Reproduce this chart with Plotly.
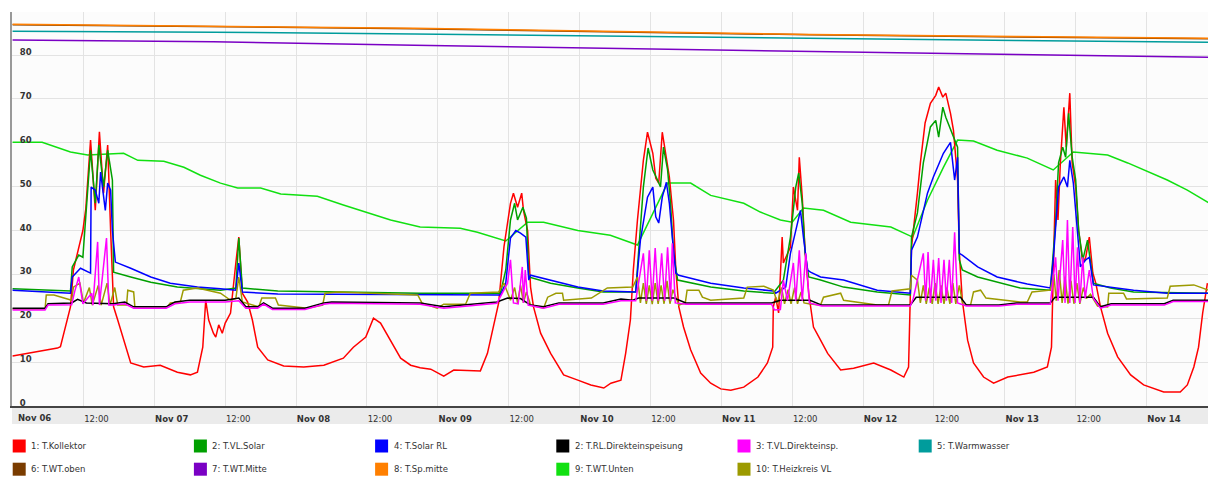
import plotly.graph_objects as go
from datetime import datetime, timedelta

# ---------------- data (hours since Nov 06 00:00, value in °C) ----------------
START = datetime(2016, 11, 6)

T_KOLLEKTOR = [(0,11.4),(7.6,13.2),(8.1,13.5),(9.8,22.6),(10.3,31),(11,35),(11.9,40),(12.4,45),(13.2,60.6),(14,44.6),(14.7,62.5),(15.4,48.5),(16.1,59.5),(16.6,40),(17.1,22.6),(17.8,19.6),(18.8,15),(20,9.8),(22.2,8.9),(25,9.3),(27.9,7.7),(30.1,7.1),(31.3,7.7),(32.2,13.4),(32.7,24.1),(33.2,19.6),(34,16.6),(34.4,15.7),(34.9,18.5),(35.5,16.6),(36,18.9),(36.9,21.2),(37.8,32.6),(38.3,38.5),(38.9,25.7),(39.8,23.7),(40.6,19.6),(41.5,13.4),(43.2,10.5),(45.9,9.1),(49.3,8.9),(52.7,9.3),(56,10.9),(57.7,13.4),(59.8,15.7),(61.1,20),(62.3,18.9),(64,15),(65.7,10.9),(67.4,9.3),(69,8.7),(70.8,8.4),(73,6.8),(74.7,8.2),(79.2,8.0),(80.4,12),(81.4,18),(82.3,23.5),(83.2,36.3),(83.8,42.4),(84.3,46.2),(84.8,48.5),(85.5,45.3),(86.2,48.5),(86.5,44.6),(87.2,40),(87.7,27.1),(88.2,22.6),(89.4,16.6),(91.1,12),(93.3,7.1),(95.7,5.9),(97.9,4.8),(100.1,4.1),(101.3,5.2),(103,5.9),(103.8,12),(104.6,19.6),(105.1,31),(105.8,42.4),(106.3,49.9),(106.8,56),(107.5,62.4),(108.4,57.6),(108.9,51.9),(109.4,50.8),(110,62.4),(110.6,57.6),(111.2,52.2),(111.9,42.4),(112.3,31),(112.8,22.6),(113.6,18),(114.8,12.8),(116.5,7.5),(118.2,5.2),(119.9,3.9),(121.6,3.6),(123.8,4.3),(126.2,6.6),(127.8,9.8),(128.7,13.4),(128.8,22.6),(129.2,24.8),(129.7,21.2),(130.3,38.5),(130.5,32.6),(131.7,36.2),(132.2,49.9),(132.9,44.6),(133.2,56.7),(133.7,47.6),(134.2,34.8),(134.8,25.7),(135.6,18),(136.8,15),(138,12),(140.2,8.2),(142.4,8.6),(145.8,9.8),(148.7,8.2),(150.9,6.6),(151.7,8.9),(152.2,36.2),(152.6,40.8),(153.2,48.5),(153.7,55.4),(154.5,64.5),(155.4,69),(156.3,70.8),(156.8,72.7),(157.5,70.4),(158,71.3),(158.8,66.7),(159.3,62.9),(160,51.5),(160.3,34.8),(160.8,24.1),(161.7,15),(162.7,9.8),(164.4,6.6),(166.1,5.2),(168.5,6.6),(170.6,7.1),(172.9,7.7),(175.2,8.9),(175.9,13.4),(176.2,30.3),(176.6,51.5),(177,42.4),(177.4,55.4),(178,68.1),(178.4,59),(179,71.3),(179.4,55.4),(180,49.9),(180.5,40),(181.2,32.6),(181.7,33.9),(182.3,38.5),(182.9,30.3),(183.4,28),(184.2,22.6),(185.4,16.6),(187.1,11.2),(189.3,7.1),(191.5,4.8),(194.9,3.2),(197.7,3.2),(198.9,4.8),(200,8.9),(200.8,13.4),(201.5,21.2),(202.3,28)]

T_VL_SOLAR = [(0,26.7),(9.8,26.2),(10.1,31.7),(11.2,34.4),(11.9,33.9),(13.2,58.3),(14,46.2),(14.6,59.5),(15.4,49.9),(16.1,58.3),(16.9,51.5),(17.1,30.5),(20,29.4),(23.4,28.2),(27.9,27.1),(35.2,26.4),(37.8,26.9),(38.3,38.3),(38.9,26.9),(44.9,26.2),(69,25.7),(82.6,25.7),(83.5,31),(84.3,42.4),(85,46.2),(85.5,42.4),(86.4,45.3),(87,42.8),(87.4,29.4),(91.1,28),(95.7,26.9),(100,26),(105.5,26),(106,34.8),(106.8,49.9),(107.6,58.8),(108.4,53.8),(109.2,51.5),(109.7,49.9),(110.2,59),(110.9,53.8),(111.4,46.2),(111.9,34.8),(112.6,28.7),(118.2,27.1),(123.8,26.2),(128.8,25.7),(130.5,28.7),(131.7,38.5),(132.6,49.9),(133.1,53.1),(133.7,46.2),(134.2,34.8),(134.8,29.4),(136.8,28.7),(140.7,27.1),(146.4,26),(152,25.3),(152.2,38.5),(153.2,44),(154.2,55.4),(155.4,63.6),(156.3,65.1),(156.8,61.3),(157.5,68.1),(158,65.8),(158.8,62.9),(159.3,61.3),(160,59),(160.3,33.3),(160.8,31),(163.4,29.4),(166.7,28.2),(170.6,26.9),(175.7,26.4),(176.6,41.7),(177.1,55.4),(177.8,59),(178.3,56.7),(178.8,66.7),(179.4,56.7),(180,51.5),(180.5,40),(181.2,33.3),(182,37.8),(183,28),(185.9,26.9),(189.8,26),(202.7,25.7)]

T_SOLAR_RL = [(0,26.4),(9.8,25.7),(10.1,29.4),(11.5,31.4),(13.2,30.3),(13.3,49.9),(14,49.2),(14.6,46.2),(14.9,53.3),(15.7,44.6),(16.1,50.8),(16.6,49.2),(16.9,40),(17.4,32.8),(20,31.4),(23.4,29.4),(26.7,28),(31.3,27.1),(35.2,26.7),(37.8,26.4),(38.3,32.6),(38.9,26),(44.9,25.5),(69,25.3),(82.6,25.3),(83.5,28),(84.3,38.3),(85.2,40),(86,39.4),(86.9,38.5),(87.4,28.7),(87.7,29.8),(91.1,28.7),(95.7,27.1),(100,26.2),(105.5,26),(106.3,37.8),(107.5,47.6),(108.4,49.9),(108.9,43.1),(109.4,41.7),(110,47.6),(110.7,51),(111.2,46.2),(111.7,38.5),(112.3,30.3),(112.8,29.8),(118.2,28),(123.8,26.9),(128.8,26.2),(129.2,25.7),(130.9,27.1),(131.7,34.8),(132.6,40),(133.4,44.6),(133.9,38.5),(134.6,31),(135.1,30.5),(136.8,29.4),(140.7,28.7),(146.4,26.4),(152,25.7),(152.2,35.5),(153.2,38.5),(154.9,48.5),(155.9,52.2),(157.6,57.6),(158.8,60.1),(159.5,51.5),(160,56.7),(160.3,34.8),(160.8,34.4),(163.4,31.7),(166.7,29.4),(170.6,28.2),(171.8,27.8),(175.7,26.9),(176.2,33.3),(177.1,49.9),(178,52.2),(178.6,49.9),(179,56),(179.6,50.8),(180.1,42.4),(180.8,31.7),(181.7,33.3),(182.3,33.9),(183,27.6),(189.8,26.4),(195.5,25.7),(202.7,25.7)]

T_RL_DIREKT = [(0,22.3),(5.5,22.3),(6,23.3),(10,23.5),(11,24.3),(12.5,23.5),(17,23.3),(19,23.7),(20.5,22.6),(26,22.6),(27.5,23.7),(30,24.1),(36,24.1),(38.3,24.6),(39.5,22.6),(41.5,22.6),(42.5,23.5),(44,22.3),(49.5,22.3),(52.7,23.5),(54,23.7),(69,23.5),(73,22.6),(82,23.7),(83.8,24.6),(86,24.5),(87.7,23),(89.9,22.6),(92.5,23.5),(100,23.5),(103,24.4),(105,24.1),(106,24.6),(112,24.6),(114,23.5),(128.5,23.5),(130,24.1),(135,24.1),(137,23),(152,23),(153,24.8),(160.5,24.8),(161.5,23),(167,23),(170,23.5),(175.7,23.5),(176.5,24.8),(183,24.8),(184.2,22.6),(186,23.3),(195,23.3),(196.5,24.1),(202.7,24.1)]

T_VL_DIREKT = [(0,21.9),(5.5,21.9),(6,23),(10,23.1),(10.5,26),(11.2,29.4),(11.9,23.3),(13.4,25.7),(13.6,23),(14.4,37.4),(14.7,23),(15.9,38.3),(16.3,23),(17,23),(19,23.3),(20.5,22.3),(26,22.3),(27.5,23.3),(30,23.7),(36,23.7),(38.3,24),(39.5,22.3),(41.5,22.3),(42.5,23.2),(44,22),(49.5,22),(52.7,23.2),(54,23.4),(69,23.2),(73,22.3),(82,23.4),(83.8,28),(84.3,33.3),(84.8,23.5),(85.6,23.3),(86.3,31.7),(86.5,23.5),(86.8,31),(87.3,23),(89.9,22.3),(92.5,23.2),(100,23.2),(103,24),(105.5,24),(106.8,34.8),(107.3,24),(107.8,35.5),(108.3,24),(108.8,36),(109.3,24),(109.9,34.8),(110.4,24),(110.9,36.2),(111.4,24),(111.7,37.1),(112.2,23.5),(114,23.2),(128.5,23.2),(129,21.9),(130,22),(130.5,28.7),(131.2,24),(132.2,32.6),(132.6,24),(133.2,35.5),(133.7,24),(134.3,34.8),(134.9,23.5),(137,22.8),(152,22.8),(152.5,24.5),(154.2,34.8),(154.6,24),(155,35.1),(155.4,23.5),(155.9,33.3),(156.3,24),(156.8,33.7),(157.2,23.5),(157.7,33.3),(158.1,24),(158.6,33.3),(159,23.5),(159.5,39.6),(160,23.5),(161.5,22.8),(167,22.8),(170,23.2),(175.7,23.2),(176.6,33.9),(177,24),(177.8,37.8),(178.2,23.5),(178.6,42.4),(179,23.5),(179.5,40.8),(179.9,23.5),(180.3,36.2),(180.7,23.5),(181.2,33.9),(181.6,24.5),(182.3,31),(183,24.5),(184.2,22.3),(186,23),(195,23),(196.5,23.8),(202.7,23.8)]

T_WARMWASSER = [(0,85.4),(34,85.2),(68,84.8),(100,84.3),(135,83.8),(170,83.3),(202.7,82.9)]
T_WT_OBEN = [(0,86.9),(34,86.5),(68,86.0),(100,85.3),(135,84.6),(170,84.1),(202.7,83.7)]
T_WT_MITTE = [(0,83.4),(34,83.0),(68,82.2),(100,81.5),(135,80.8),(170,80.1),(202.7,79.5)]
T_SP_MITTE = [(0,87.0),(34,86.6),(68,86.1),(100,85.4),(135,84.7),(170,84.2),(202.7,83.8)]

T_WT_UNTEN = [(0,60.1),(5,60.1),(9.8,57.9),(12.7,57.2),(18.8,57.6),(21.2,56),(25.6,55.8),(29,54.4),(31.8,52.6),(35.2,50.8),(38.1,49.7),(42,49.7),(45.4,48.3),(51.6,47.8),(56,45.8),(60.1,44),(64,42.4),(69,40.8),(75.8,40.5),(78.7,39.6),(83.5,37.6),(87.2,41.9),(89.9,41.9),(95.7,40),(101.2,38.9),(105.8,36.7),(110.9,50.8),(114.8,50.8),(118.2,48),(123.8,46.2),(126.6,44.2),(130,42.4),(132,41.9),(133.9,45.1),(137.3,44.6),(141.9,41.9),(148.7,40.8),(152.4,38.5),(154.9,46.9),(157.6,54.4),(160,60.6),(162.7,60.4),(166.7,58.3),(171.8,56.5),(176.2,53.8),(179.6,57.9),(185.4,57.2),(188.8,55.4),(195.5,51.5),(198.9,49.2),(202.7,46.2)]

T_HEIZKREIS_VL = [(0,22.1),(5.5,22.1),(5.7,25.3),(7,25.3),(10,24.1),(10.3,27.1),(11.4,28),(12,23.5),(13,27),(13.5,23),(14.5,27.5),(15,23),(16,28),(16.5,23),(17.3,27),(17.8,23),(19.3,23),(19.5,26.4),(20.5,26),(20.7,22.6),(26.2,22.6),(26.7,23.5),(28.4,23.7),(28.9,26.4),(31.3,26.9),(35.2,25.7),(36.9,24.1),(37.8,24.5),(38.3,29.4),(38.9,23.7),(41.7,22.6),(42.2,24.6),(44.5,24.6),(45,23),(49.9,22.3),(52.5,23),(52.9,25.7),(55,26),(68.6,25.3),(69.3,23.5),(71.9,22.3),(73,23.2),(76.7,23.2),(77.5,25.7),(82.3,26),(83.2,28),(84.3,24.1),(85,27),(85.5,23.5),(86,27.5),(86.5,23.5),(87,26),(87.7,23),(89.9,22.3),(90.6,24.8),(92,25.7),(93.1,25.7),(93.3,24.1),(98,24.6),(100.7,26.9),(105,27.1),(105.8,29.4),(106.3,23.5),(106.8,28),(107.3,23.3),(107.8,27.5),(108.3,23.2),(108.8,28),(109.3,23.3),(109.8,27.5),(110.3,23.3),(110.8,28.5),(111.3,23.3),(111.8,26.5),(112.8,23),(113.9,23.5),(114.2,26.4),(116.2,26.4),(116.8,24.8),(118.2,24.1),(123.8,24.6),(124.4,27.1),(127.2,27.3),(128.8,26.4),(129.5,23.5),(130.2,27),(130.7,23.3),(131.3,26.5),(131.8,23.3),(132.4,27),(132.9,23.3),(133.5,26),(134,23.5),(134.8,23.3),(136.8,23),(137.3,24.8),(140.2,25.7),(140.7,24.1),(146.4,23),(148.3,23),(148.9,26.2),(152,26.7),(152.2,29.8),(153.2,28.7),(153.7,23.5),(154.2,27.5),(154.7,23.3),(155.2,27),(155.7,23.3),(156.2,28),(156.7,23.3),(157.2,27.5),(157.7,23.3),(158.2,27),(158.7,23.3),(159.2,28),(159.7,23.3),(160.3,27.5),(160.9,23),(162.2,23),(162.7,26),(163.9,26.4),(164.8,24.6),(170.6,23.7),(171.8,23.7),(172.6,26),(175.7,26.4),(176.3,30),(176.7,24),(177.2,31),(177.7,23.5),(178.2,29.5),(178.7,23.3),(179.2,28.5),(179.7,23.3),(180.2,28),(180.7,23.3),(181.3,27),(181.8,24.5),(182.5,25.5),(183.7,22.8),(185.4,22.6),(185.6,25.7),(188.1,25.7),(188.6,24.4),(195.5,24.6),(196,27.3),(200,27.6),(202.5,26.4)]

X_TICK_HOURS = [i * 12 for i in range(17)]
X_TICK_LABELS = ["<b>Nov 06</b>", "12:00", "<b>Nov 07</b>", "12:00", "<b>Nov 08</b>", "12:00",
                 "<b>Nov 09</b>", "12:00", "<b>Nov 10</b>", "12:00", "<b>Nov 11</b>", "12:00",
                 "<b>Nov 12</b>", "12:00", "<b>Nov 13</b>", "12:00", "<b>Nov 14</b>"]
Y_TICKS = [0, 10, 20, 30, 40, 50, 60, 70, 80]

# legend order (row-major, 6 columns) : name, colour, series
LEGEND = [
    ("1: T.Kollektor", "#ff0000", T_KOLLEKTOR),
    ("2: T.VL.Solar", "#00a000", T_VL_SOLAR),
    ("4: T.Solar RL", "#0000ff", T_SOLAR_RL),
    ("2: T.RL.Direkteinspeisung", "#000000", T_RL_DIREKT),
    ("3: T.VL.Direkteinsp.", "#ff00ff", T_VL_DIREKT),
    ("5: T.Warmwasser", "#009c9c", T_WARMWASSER),
    ("6: T.WT.oben", "#7a3c00", T_WT_OBEN),
    ("7: T.WT.Mitte", "#7a00c4", T_WT_MITTE),
    ("8: T.Sp.mitte", "#ff7f00", T_SP_MITTE),
    ("9: T.WT.Unten", "#11e011", T_WT_UNTEN),
    ("10: T.Heizkreis VL", "#9c9a00", T_HEIZKREIS_VL),
]
DRAW_ORDER = [6, 8, 5, 7, 9, 0, 1, 2, 10, 3, 4]

FONT = "DejaVu Sans, Verdana, sans-serif"

def to_dt(h):
    return START + timedelta(hours=h)

fig = go.Figure()
for idx in DRAW_ORDER:
    name, color, series = LEGEND[idx]
    fig.add_trace(go.Scatter(
        x=[to_dt(h) for h, _ in series], y=[v for _, v in series],
        mode="lines", name=name, line=dict(color=color, width=1.5),
        showlegend=False, hoverinfo="skip"))

# ----- layout geometry (pixels) -----
W, H = 1209, 488
L, R, T, B = 12, 1, 12, 82
PW, PH = W - L - R, H - T - B

def px_x(px):
    return (px - L) / PW

def px_y(py):
    return (H - B - py) / PH

shapes = [
    dict(type="rect", xref="paper", yref="paper", x0=0, x1=1,
         y0=px_y(424), y1=px_y(407.5), fillcolor="#ebebeb", line=dict(width=0), layer="below"),
]
annotations = [
    # first x tick label (plotly drops the edge label with 'outside right' positioning)
    dict(xref="x", yref="paper", x=to_dt(0), y=px_y(417.5), xanchor="left", yanchor="middle",
         xshift=3, showarrow=False, text=X_TICK_LABELS[0],
         font=dict(family=FONT, size=8.5, color="#333333")),
]
col_left = [12.7, 193.9, 375.1, 556.3, 737.5, 918.7]
row_cy = [446, 469.2]
for i, (name, color, _) in enumerate(LEGEND):
    r, c = divmod(i, 6)
    lx, cy = col_left[c], row_cy[r]
    shapes.append(dict(type="rect", xref="paper", yref="paper",
                       x0=px_x(lx), x1=px_x(lx + 13), y0=px_y(cy + 6.5), y1=px_y(cy - 6.5),
                       fillcolor=color, line=dict(width=0)))
    annotations.append(dict(xref="paper", yref="paper", x=px_x(lx + 16.5), y=px_y(cy),
                            xanchor="left", yanchor="middle", showarrow=False, text=name,
                            font=dict(family=FONT, size=8.5, color="#333333")))

fig.update_layout(
    width=W, height=H,
    margin=dict(l=L, r=R, t=T, b=B, pad=0, autoexpand=False),
    paper_bgcolor="#ffffff", plot_bgcolor="#fcfcfc",
    showlegend=False,
    shapes=shapes, annotations=annotations,
    xaxis=dict(
        type="date", range=[to_dt(-0.1), to_dt(202.4)], automargin=False,
        tickmode="array", tickvals=[to_dt(h) for h in X_TICK_HOURS],
        ticktext=[""] + X_TICK_LABELS[1:],
        ticklabelposition="outside right", ticklabeloverflow="allow", ticks="", ticklabelstandoff=4,
        tickfont=dict(family=FONT, size=8.5, color="#333333"),
        showgrid=True, gridcolor="#e3e3e3", gridwidth=1,
        showline=True, linecolor="#444444", linewidth=1.5, zeroline=False,
    ),
    yaxis=dict(
        range=[0, 89.8], tickmode="array", tickvals=Y_TICKS, automargin=False,
        ticktext=["<b>%d</b>" % v for v in Y_TICKS],
        ticklabelposition="inside top", ticklabeloverflow="allow",
        ticks="", ticklabelstandoff=6, ticklabelshift=3,
        tickfont=dict(family=FONT, size=8.5, color="#333333"),
        showgrid=True, gridcolor="#e3e3e3", gridwidth=1,
        showline=True, linecolor="#999999", linewidth=1.5, zeroline=False,
    ),
)

fig.write_html("out.html", config={"displayModeBar": False},
               post_script="document.body.style.margin='0';document.body.style.overflow='hidden';")
